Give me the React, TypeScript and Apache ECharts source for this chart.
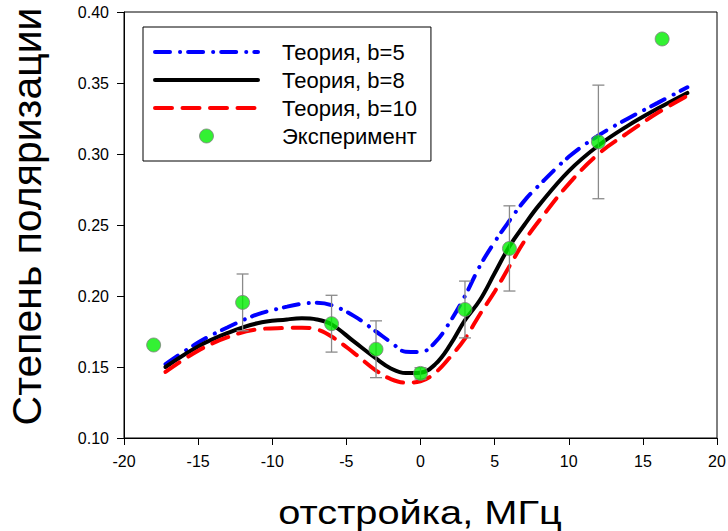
import React, { useEffect, useRef } from "react";
import * as echarts from "echarts";

const FONT = "'Liberation Sans', Arial, sans-serif";

const xTheory = [-17.2, -15, -13, -11, -9, -8, -7, -6, -4.5, -3, -2, -1, 0, 1, 2, 3, 4, 5, 6, 7, 8, 10, 12, 14, 16, 18];
const yB5 = [0.152, 0.1672, 0.178, 0.187, 0.1925, 0.1945, 0.1952, 0.1935, 0.186, 0.175, 0.1675, 0.1608, 0.1605, 0.1675, 0.182, 0.2, 0.221, 0.238, 0.253, 0.267, 0.278, 0.298, 0.313, 0.325, 0.336, 0.347];
const yB8 = [0.15, 0.1645, 0.174, 0.1808, 0.1835, 0.1843, 0.1835, 0.18, 0.168, 0.156, 0.149, 0.1457, 0.146, 0.152, 0.1655, 0.183, 0.197, 0.216, 0.235, 0.25, 0.264, 0.288, 0.306, 0.32, 0.332, 0.343];
const yB10 = [0.1465, 0.1615, 0.171, 0.1765, 0.1775, 0.1777, 0.1765, 0.1715, 0.16, 0.1475, 0.1415, 0.139, 0.14, 0.146, 0.157, 0.17, 0.187, 0.203, 0.221, 0.2385, 0.253, 0.279, 0.3, 0.315, 0.329, 0.341];

const xExp = [-18, -12, -6, -3, 0, 3, 6, 12, 16.3];
const yExp = [0.1655, 0.1955, 0.1805, 0.1625, 0.1455, 0.1905, 0.2335, 0.3085, 0.381];
const errExp = [0, 0.02, 0.02, 0.02, 0.004, 0.02, 0.03, 0.04, 0];

const names = ["Теория, b=5", "Теория, b=8", "Теория, b=10", "Эксперимент"];
const xTitle = "отстройка, МГц";
const yTitle = "Степень поляризации";

export default function App() {
  const ref = useRef<HTMLDivElement>(null);
  useEffect(() => {
    document.body.style.margin = "0";
    const chart = echarts.init(ref.current!, null, { renderer: "svg" });
    const pair = (ys: number[]) => xTheory.map((x, i) => [x, ys[i]]);
    const errData = xExp
      .map((x, i) => [x, yExp[i], errExp[i]])
      .filter((d) => d[2] > 0);
    const clear = "rgba(0,0,0,0)";
    const option: any = {
      animation: false,
      backgroundColor: "#fff",
      textStyle: { fontFamily: FONT },
      grid: {
        left: 124,
        right: 11,
        top: 12,
        bottom: 93,
        show: true,
        borderColor: "#000",
        borderWidth: 1,
        outerBoundsMode: "none",
        containLabel: false,
      },
      graphic: [
        {
          type: "text",
          x: 420,
          y: 513,
          scaleX: 1.17,
          style: {
            text: xTitle,
            fontSize: 34,
            fontFamily: FONT,
            fill: "#000",
            align: "center",
            verticalAlign: "middle",
          },
        },
      ],
      legend: {
        data: names,
        orient: "vertical",
        left: 143,
        top: 27,
        itemWidth: 103,
        itemHeight: 14,
        itemGap: 0,
        padding: [11, 14, 11, 10],
        borderColor: "#000",
        borderWidth: 1,
        borderRadius: 0,
        backgroundColor: "#fff",
        formatter: (n: string) => "{g|}" + n,
        textStyle: {
          fontFamily: FONT,
          fontSize: 22,
          color: "#000",
          lineHeight: 28,
          rich: { g: { width: 19 } },
        },
        lineStyle: { width: "inherit" },
        itemStyle: { borderWidth: "inherit" },
      },
      xAxis: {
        type: "value",
        min: -20,
        max: 20,
        interval: 5,
        axisLine: { onZero: false, lineStyle: { color: "#000", width: 1 } },
        axisTick: { inside: false, length: 7, lineStyle: { color: "#000" } },
        axisLabel: { fontSize: 16, color: "#000", margin: 15, fontFamily: FONT },
        splitLine: { show: false },
      },
      yAxis: {
        type: "value",
        min: 0.1,
        max: 0.4,
        interval: 0.05,
        name: yTitle,
        nameLocation: "middle",
        nameRotate: 90,
        nameGap: 77,
        nameTextStyle: { fontSize: 41, color: "#000", fontFamily: FONT, padding: [0, 0, 0, 17] },
        axisLine: { show: true, onZero: false, lineStyle: { color: "#000", width: 1 } },
        axisTick: { show: true, inside: false, length: 7, lineStyle: { color: "#000" } },
        axisLabel: {
          fontSize: 16,
          color: "#000",
          margin: 15,
          fontFamily: FONT,
          formatter: (v: number) => v.toFixed(2),
        },
        splitLine: { show: false },
      },
      series: [
        {
          name: names[0],
          type: "line",
          data: pair(yB5),
          smooth: 0.4,
          symbol: "none",
          z: 3,
          lineStyle: { color: "#0000ff", width: 4, type: [15, 10, 0.1, 8], cap: "round" },
          itemStyle: { color: clear },
        },
        {
          name: names[1],
          type: "line",
          data: pair(yB8),
          smooth: 0.4,
          symbol: "none",
          z: 3,
          lineStyle: { color: "#000000", width: 4, type: "solid", cap: "round" },
          itemStyle: { color: clear },
        },
        {
          name: names[2],
          type: "line",
          data: pair(yB10),
          smooth: 0.4,
          symbol: "none",
          z: 3,
          lineStyle: { color: "#ff0000", width: 4, type: [17, 10.5], cap: "round" },
          itemStyle: { color: clear },
        },
        {
          name: "err",
          type: "custom",
          z: 4,
          data: errData,
          renderItem: (params: any, api: any) => {
            const x = api.value(0);
            const y = api.value(1);
            const e = api.value(2);
            const top = api.coord([x, y + e]);
            const bot = api.coord([x, y - e]);
            const hw = 6;
            const st = { stroke: "#8a8a8a", lineWidth: 1.3 };
            return {
              type: "group",
              children: [
                { type: "line", shape: { x1: top[0], y1: top[1], x2: bot[0], y2: bot[1] }, style: st },
                { type: "line", shape: { x1: top[0] - hw, y1: top[1], x2: top[0] + hw, y2: top[1] }, style: st },
                { type: "line", shape: { x1: bot[0] - hw, y1: bot[1], x2: bot[0] + hw, y2: bot[1] }, style: st },
              ],
            };
          },
        },
        {
          name: names[3],
          type: "scatter",
          z: 5,
          data: xExp.map((x, i) => [x, yExp[i]]),
          symbol: "circle",
          symbolSize: 14,
          itemStyle: { color: "#00ee00", borderColor: "#808080", borderWidth: 1 },
        },
      ],
    };
    chart.setOption(option);
    return () => chart.dispose();
  }, []);
  return <div ref={ref} style={{ width: 728, height: 531 }} />;
}
